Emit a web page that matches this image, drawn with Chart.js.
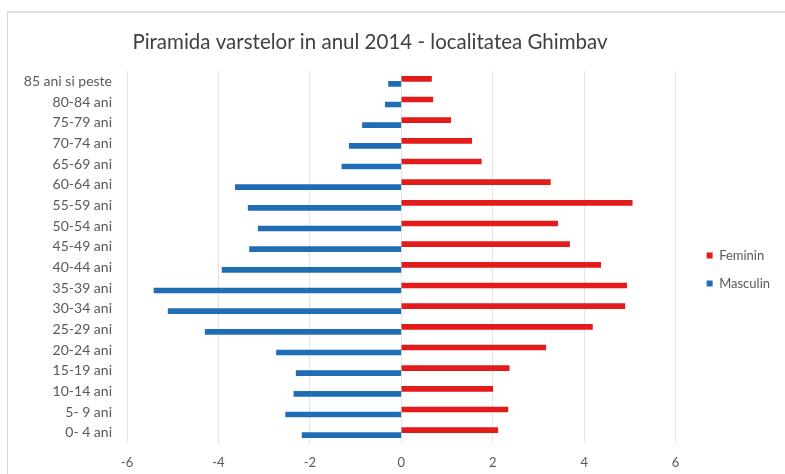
<!DOCTYPE html>
<html>
<head>
<meta charset="utf-8">
<script src="https://cdn.jsdelivr.net/npm/chart.js@4.4.1/dist/chart.umd.min.js"></script>
<style>
  html, body { margin: 0; padding: 0; background: #ffffff; overflow: hidden; width: 785px; height: 474px; }
  #frame { position: absolute; left: 7px; top: 11px; width: 790px; height: 470px;
           border-left: 1px solid #d9d9d9; border-top: 2px solid #dedede; }
  #wrap { position: absolute; left: 0; top: 0; width: 785px; height: 474px; }
</style>
</head>
<body>
<div id="frame"></div>
<div id="wrap"><canvas id="c" width="785" height="474"></canvas></div>
<script>
const titleText = 'Piramida varstelor in anul 2014 - localitatea Ghimbav';
const categories = ['85 ani si peste', '80-84 ani', '75-79 ani', '70-74 ani', '65-69 ani',
  '60-64 ani', '55-59 ani', '50-54 ani', '45-49 ani', '40-44 ani', '35-39 ani',
  '30-34 ani', '25-29 ani', '20-24 ani', '15-19 ani', '10-14 ani', '5- 9 ani', '0- 4 ani'];
const feminin = [0.66, 0.69, 1.08, 1.54, 1.75, 3.26, 5.05, 3.42, 3.68, 4.36, 4.93,
  4.89, 4.18, 3.16, 2.36, 2.00, 2.33, 2.11];
const masculin = [-0.28, -0.35, -0.85, -1.14, -1.30, -3.63, -3.35, -3.13, -3.32, -3.92,
  -5.41, -5.10, -4.29, -2.73, -2.30, -2.35, -2.53, -2.17];
const xTicks = [-6, -4, -2, 0, 2, 4, 6];

const FONT = 'Lato';
const labelColor = '#595959';

const titlePlugin = {
  id: 'customTitle',
  afterDraw(chart) {
    const ctx = chart.ctx;
    ctx.save();
    ctx.font = '20.5px ' + FONT;
    ctx.fillStyle = '#404040';
    ctx.textAlign = 'center';
    ctx.textBaseline = 'middle';
    ctx.fillText(titleText, 370, 42);
    ctx.restore();
  }
};

new Chart(document.getElementById('c'), {
  type: 'bar',
  data: {
    labels: categories,
    datasets: [
      { label: 'Feminin', data: feminin, backgroundColor: '#e31b1b', barThickness: 5 },
      { label: 'Masculin', data: masculin, backgroundColor: '#1f6db5', barThickness: 5 }
    ]
  },
  plugins: [titlePlugin],
  options: {
    indexAxis: 'y',
    responsive: false,
    animation: false,
    layout: { padding: { top: 71, right: 5, bottom: 6, left: 0 } },
    plugins: {
      title: { display: false },
      tooltip: { enabled: false },
      legend: {
        position: 'right',
        labels: {
          boxWidth: 6, boxHeight: 6, padding: 15,
          color: labelColor,
          font: { family: FONT, size: 13 }
        }
      }
    },
    scales: {
      x: {
        min: -6, max: 6,
        afterBuildTicks(s) { s.ticks = xTicks.map(v => ({ value: v })); },
        afterFit(s) { s.height = 25; },
        grid: { color: '#e4e4e4', drawTicks: false },
        border: { display: false },
        ticks: { color: labelColor, font: { family: FONT, size: 13 }, padding: 12 }
      },
      y: {
        afterFit(s) { s.width = 127; },
        grid: { display: false, drawTicks: false },
        border: { display: false },
        ticks: { color: labelColor, font: { family: FONT, size: 14 }, padding: 15, autoSkip: false }
      },
      yRight: {
        type: 'category',
        position: 'right',
        afterFit(s) { s.width = 16; },
        grid: { display: false, drawTicks: false },
        border: { display: false },
        ticks: { display: false }
      }
    }
  }
});
</script>
</body>
</html>
